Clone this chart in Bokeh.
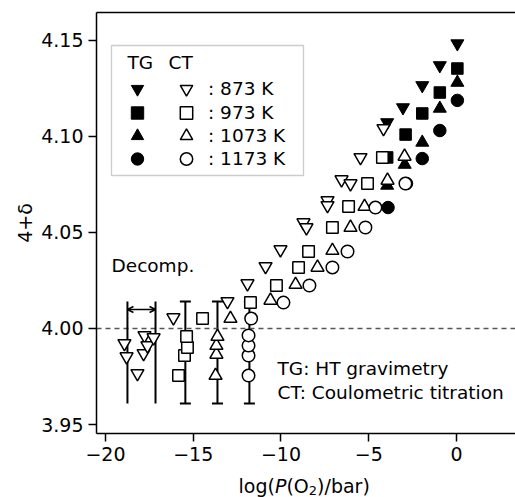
import math
from bokeh.plotting import figure
from bokeh.models import (Range1d, FixedTicker, Label, Legend, LegendItem, BoxAnnotation,
                          Whisker, TeeHead, ColumnDataSource, Arrow, OpenHead, LinearAxis)
from bokeh.core.properties import value
from bokeh.embed import file_html
from bokeh.resources import INLINE

# ---------------- data ----------------
x_ticks = [-20, -15, -10, -5, 0]
x_tick_labels = ["\u221220", "\u221215", "\u221210", "\u22125", "0"]
y_ticks = [3.95, 4.00, 4.05, 4.10, 4.15]
y_tick_labels = ["3.95", "4.00", "4.05", "4.10", "4.15"]

temps = ["873 K", "973 K", "1073 K", "1173 K"]

# TG: HT gravimetry (filled markers)
tg873_x = [-3.95, -3.05, -1.95, -0.95, 0.05]
tg873_y = [4.1073, 4.1151, 4.1266, 4.1370, 4.1484]
tg973_x = [-3.95, -2.9, -1.95, -0.95, 0.05]
tg973_y = [4.0891, 4.1010, 4.1120, 4.1229, 4.1354]
tg1073_x = [-3.95, -2.95, -1.95, -0.95, 0.05]
tg1073_y = [4.0745, 4.0854, 4.0969, 4.1146, 4.1281]
tg1173_x = [-3.9, -2.85, -1.95, -0.95, 0.05]
tg1173_y = [4.0630, 4.0755, 4.0885, 4.1031, 4.1188]

# CT: Coulometric titration (open markers)
ct873_x = [-18.92, -18.80, -18.18, -17.78, -17.83, -17.61, -17.26, -16.13, -13.05, -11.91,
           -10.88, -10.03, -8.72, -8.55, -7.35, -7.35, -6.55, -6.04, -5.47, -4.16]
ct873_y = [3.9922, 3.9854, 3.9766, 3.9964, 3.9870, 3.9911, 3.9953, 4.0057, 4.0141, 4.0234,
           4.0323, 4.0411, 4.0552, 4.0526, 4.0667, 4.0641, 4.0776, 4.0755, 4.0891, 4.1042]
ct973_x = [-15.84, -15.50, -15.33, -15.38, -14.47, -11.74, -10.26, -9.00, -8.43, -7.07,
           -6.15, -5.07, -4.22]
ct973_y = [3.9755, 3.9859, 3.9901, 3.9958, 4.0052, 4.0135, 4.0224, 4.0318, 4.0401, 4.0526,
           4.0635, 4.0755, 4.0891]
ct1073_x = [-13.73, -13.68, -13.68, -13.62, -12.88, -10.60, -9.17, -7.92, -7.07, -6.04,
            -5.24, -3.93, -2.96]
ct1073_y = [3.9755, 3.9865, 3.9911, 3.9958, 4.0052, 4.0146, 4.0229, 4.0318, 4.0406, 4.0526,
            4.0635, 4.0771, 4.0896]
ct1173_x = [-11.85, -11.85, -11.85, -11.85, -11.70, -9.86, -8.38, -7.07, -6.21, -5.19,
            -4.62, -2.91]
ct1173_y = [3.9755, 3.9859, 3.9911, 3.9964, 4.0052, 4.0135, 4.0224, 4.0318, 4.0401, 4.0526,
            4.0630, 4.0755]

# error bars in the decomposition region
err_x = [-15.45, -13.62, -11.80]
err_lo = [3.9609, 3.9609, 3.9609]
err_hi = [4.0141, 4.0141, 4.0141]

# decomposition bracket
decomp_x = [-18.75, -17.15]
decomp_lo = [3.9609, 3.9609]
decomp_hi = [4.0141, 4.0141]
decomp_arrow_y = 4.0099

ref_level = 4.00

# ---------------- layout constants ----------------
AX_X0, AX_X1 = -20.513, 3.362      # drawn x-axis extent
AX_Y0, AX_Y1 = 3.9453, 4.1646      # drawn y-axis extent
FONT = "DejaVu Sans"
FS = "19px"
FS_T = "18.5px"
H = 497                            # canvas height (screen y origin is bottom)

p = figure(width=515, height=H, output_backend="svg", toolbar_location=None,
           x_range=Range1d(-25.983, 3.362), y_range=Range1d(3.91198, 4.17083),
           x_axis_location=None, y_axis_location=None, min_border=0)
p.grid.visible = False
p.outline_line_color = None
p.background_fill_color = "white"
p.border_fill_color = "white"


def style_axis(ax):
    ax.axis_line_color = "black"
    ax.axis_line_width = 1.5
    ax.major_tick_line_color = "black"
    ax.major_tick_line_width = 1.5
    ax.major_tick_in = 0
    ax.major_tick_out = 8
    ax.minor_tick_line_color = None
    ax.major_label_text_font = FONT
    ax.major_label_text_font_size = FS
    ax.major_label_text_color = "black"
    ax.major_label_standoff = 5


xax = LinearAxis(fixed_location=AX_Y0, bounds=(AX_X0, AX_X1),
                 ticker=FixedTicker(ticks=x_ticks))
style_axis(xax)
xax.major_label_overrides = dict(zip(x_ticks, x_tick_labels))
p.add_layout(xax, "below")

yax = LinearAxis(fixed_location=AX_X0, bounds=(AX_Y0, AX_Y1),
                 ticker=FixedTicker(ticks=y_ticks))
style_axis(yax)
yax.major_label_overrides = dict(zip(y_ticks, y_tick_labels))
yax.axis_label = "4+\u03b4"
yax.axis_label_text_font = FONT
yax.axis_label_text_font_size = FS
yax.axis_label_text_font_style = "normal"
yax.axis_label_text_color = "black"
yax.axis_label_standoff = 2
p.add_layout(yax, "left")

topax = LinearAxis(fixed_location=AX_Y1, bounds=(AX_X0, AX_X1), ticker=FixedTicker(ticks=[]))
topax.axis_line_color = "black"
topax.axis_line_width = 1.5
topax.major_tick_line_color = None
topax.minor_tick_line_color = None
p.add_layout(topax, "above")

# reference dashed line
p.segment(x0=[AX_X0], x1=[AX_X1], y0=[ref_level], y1=[ref_level], line_color="#555555",
          line_width=1.3, line_dash="5 4")

# error bars
err_src = ColumnDataSource(dict(base=err_x, lower=err_lo, upper=err_hi))
p.add_layout(Whisker(source=err_src, base="base", lower="lower", upper="upper",
                     dimension="height", line_color="black", line_width=2,
                     upper_head=TeeHead(size=11, line_color="black", line_width=2),
                     lower_head=TeeHead(size=11, line_color="black", line_width=2)))

# decomposition bracket
p.segment(x0=decomp_x, x1=decomp_x, y0=decomp_lo, y1=decomp_hi, line_color="black", line_width=2)
p.add_layout(Arrow(start=OpenHead(size=6, line_width=1.5), end=OpenHead(size=6, line_width=1.5),
                   x_start=decomp_x[0], y_start=decomp_arrow_y,
                   x_end=decomp_x[1], y_end=decomp_arrow_y, line_width=1.5))

tg_sets = [(tg873_x, tg873_y, "inverted_triangle", 13), (tg973_x, tg973_y, "square", 11.5),
           (tg1073_x, tg1073_y, "triangle", 13), (tg1173_x, tg1173_y, "circle", 12.5)]
ct_sets = [(ct873_x, ct873_y, "inverted_triangle", 13), (ct973_x, ct973_y, "square", 11.5),
           (ct1073_x, ct1073_y, "triangle", 13), (ct1173_x, ct1173_y, "circle", 12.5)]

tg_r = []
for xs, ys, mk, sz in tg_sets:
    tg_r.append(p.scatter(xs, ys, marker=mk, size=sz, fill_color="black",
                          line_color="black", line_width=1))
ct_r = []
for xs, ys, mk, sz in ct_sets:
    ct_r.append(p.scatter(xs, ys, marker=mk, size=sz, fill_color="white",
                          line_color="black", line_width=1.5))

# legend box (screen units relative to the plot frame, origin bottom-left)
p.add_layout(BoxAnnotation(left=111, right=303, bottom=H - 175, top=H - 45,
                           left_units="screen", right_units="screen",
                           bottom_units="screen", top_units="screen",
                           fill_color="white", fill_alpha=1.0,
                           line_color="#555555", line_width=1.3))

# one legend per row and column so that rows can sit closer than the key glyph box
row_centers = [88, 112, 135, 158]
GH = 31
for i, (t, rf, ro) in enumerate(zip(temps, tg_r, ct_r)):
    vy = H - row_centers[i] - GH / 2
    legA = Legend(items=[LegendItem(label=value(""), renderers=[rf])],
                  location=(121, vy), glyph_width=32, glyph_height=GH, spacing=0, padding=0,
                  margin=0, border_line_color=None, background_fill_alpha=0, label_width=0,
                  label_height=20, label_standoff=0, label_text_font=FONT,
                  label_text_font_size=FS_T, label_text_color="black")
    legB = Legend(items=[LegendItem(label=": " + t, renderers=[ro])],
                  location=(168, vy), glyph_width=36, glyph_height=GH, spacing=0, padding=0,
                  margin=0, border_line_color=None, background_fill_alpha=0, label_height=20,
                  label_standoff=4, label_text_font=FONT, label_text_font_size=FS_T,
                  label_text_color="black")
    p.add_layout(legA)
    p.add_layout(legB)


def lab(x, y, t, size=FS_T, style="normal"):
    p.add_layout(Label(x=x, y=y, x_units="screen", y_units="screen", text=t,
                       text_baseline="middle", text_align="left", text_font=FONT,
                       text_font_size=size, text_font_style=style, text_color="black"))


lab(127, H - 62, "TG")
lab(168, H - 62, "CT")
lab(111, H - 265, "Decomp.")
lab(277, H - 368, "TG: HT gravimetry")
lab(277, H - 392, "CT: Coulometric titration")

# x axis label composed: log(P(O2)/bar)
x0 = 238
lab(x0, 12, "log(", size=FS)
lab(x0 + 36.4, 12, "P", size=FS, style="italic")
lab(x0 + 47.9, 12, "(O", size=FS)
lab(x0 + 70.3, 7, "2", size="13px")
lab(x0 + 78.6, 12, ")/bar)", size=FS)

open("out.html", "w").write(file_html(p, INLINE))
